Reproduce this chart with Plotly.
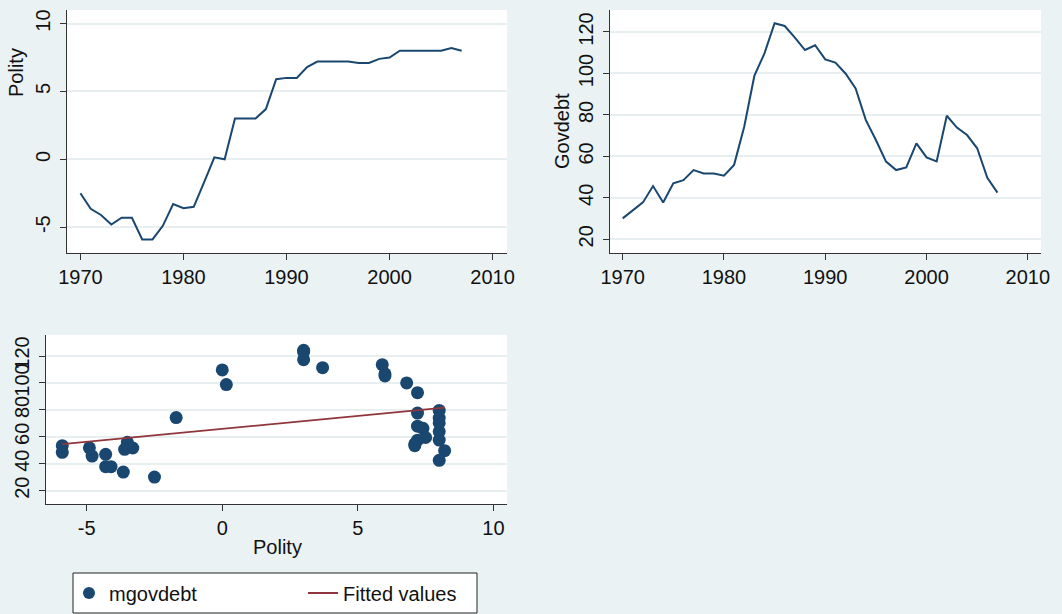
import numpy as np
import plotly.graph_objects as go

years = list(range(1970, 2008))
polity = [-2.5, -3.65, -4.1, -4.8, -4.3, -4.3, -5.9, -5.9, -4.9, -3.3,
          -3.6, -3.5, -1.7, 0.15, 0.0, 3.0, 3.0, 3.0, 3.7, 5.9,
          6.0, 6.0, 6.8, 7.2, 7.2, 7.2, 7.2, 7.1, 7.1, 7.4,
          7.5, 8.0, 8.0, 8.0, 8.0, 8.0, 8.2, 8.0]
govdebt = [30.1, 33.8, 37.8, 45.7, 37.8, 47.0, 48.5, 53.4, 51.8, 51.7,
           50.7, 55.9, 74.3, 98.8, 109.7, 124.2, 122.9, 117.3, 111.3, 113.6,
           106.8, 105.2, 100.0, 92.8, 77.6, 67.9, 57.5, 53.4, 54.7, 66.3,
           59.5, 57.6, 79.6, 73.9, 70.3, 63.9, 49.7, 42.5]

year_ticks = [1970, 1980, 1990, 2000, 2010]
polity_ticks = [-5, 0, 5, 10]
polity_tick_labels = ["-5", "0", "5", "10"]
debt_ticks = [20, 40, 60, 80, 100, 120]
scatter_x_ticks = [-5, 0, 5, 10]
scatter_x_labels = ["-5", "0", "5", "10"]

NAVY = "#1a476f"
RED = "#90353b"
BG = "#eaf2f3"
GRID = "#e8eff1"
AXIS = "#333333"
FONT = "Liberation Sans, Arial, sans-serif"
FS = 20

# fitted values (OLS of govdebt on polity)
slope, intercept = np.polyfit(polity, govdebt, 1)
fx = [min(polity), max(polity)]
fy = [intercept + slope * v for v in fx]

W, H = 1062, 614

def px_x(a, b):
    return [a / W, b / W]

def px_y(top, bottom):
    return [(H - bottom) / H, (H - top) / H]

fig = go.Figure()
fig.add_trace(go.Scatter(x=years, y=polity, mode="lines",
                         line=dict(color=NAVY, width=2),
                         xaxis="x", yaxis="y", showlegend=False))
fig.add_trace(go.Scatter(x=years, y=govdebt, mode="lines",
                         line=dict(color=NAVY, width=2),
                         xaxis="x2", yaxis="y2", showlegend=False))
fig.add_trace(go.Scatter(x=polity, y=govdebt, mode="markers", name="mgovdebt",
                         marker=dict(color=NAVY, size=13),
                         xaxis="x3", yaxis="y3", legend="legend"))
fig.add_trace(go.Scatter(x=fx, y=fy, mode="lines", name="Fitted values",
                         line=dict(color=RED, width=1.8),
                         xaxis="x3", yaxis="y3", legend="legend2"))

common_x = dict(showline=True, linecolor=AXIS, linewidth=1.2, ticks="outside",
                ticklen=6, tickcolor=AXIS, showgrid=False, zeroline=False,
                tickfont=dict(family=FONT, size=FS, color="#111"))
common_y = dict(showline=True, linecolor=AXIS, linewidth=1.2, ticks="outside",
                ticklen=6, tickcolor=AXIS, showgrid=True, gridcolor=GRID,
                gridwidth=1.5, zeroline=False, tickangle=-90,
                ticklabelstandoff=2,
                tickfont=dict(family=FONT, size=FS, color="#111"))

title_font = dict(family=FONT, size=FS, color="#111")
legend_common = dict(orientation="h", xanchor="left", yanchor="middle",
                     y=(H - 593) / H, bgcolor="rgba(0,0,0,0)", borderwidth=0,
                     font=dict(family=FONT, size=FS, color="#111"))

fig.update_layout(
    width=W, height=H,
    margin=dict(l=0, r=0, t=0, b=0, autoexpand=False),
    paper_bgcolor=BG, plot_bgcolor="white",
    font=dict(family=FONT, size=FS, color="#111"),
    xaxis=dict(domain=px_x(67, 507), anchor="y", range=[1968.7, 2011.4],
               tickvals=year_ticks, **common_x),
    yaxis=dict(domain=px_y(10, 253), anchor="x", range=[-6.9, 11.0],
               tickvals=polity_ticks, ticktext=polity_tick_labels, **common_y),
    xaxis2=dict(domain=px_x(610, 1041), anchor="y2", range=[1968.75, 2011.3],
                tickvals=year_ticks, **common_x),
    yaxis2=dict(domain=px_y(10, 253), anchor="x2", range=[13.4, 130.6],
                tickvals=debt_ticks, **common_y),
    xaxis3=dict(domain=px_x(46, 507), anchor="y3", range=[-6.5, 10.5],
                tickvals=scatter_x_ticks, ticktext=scatter_x_labels, **common_x),
    yaxis3=dict(domain=px_y(335, 504), anchor="x3", range=[10.1, 135.6],
                tickvals=debt_ticks, **common_y),
    legend=dict(x=69 / W, itemsizing="constant", **legend_common),
    legend2=dict(x=303 / W, itemsizing="trace", **legend_common),
    shapes=[dict(type="rect", xref="paper", yref="paper",
                 x0=73 / W, x1=477 / W, y0=(H - 613) / H, y1=(H - 573) / H,
                 line=dict(color="#222", width=1), fillcolor="white",
                 layer="below")],
    annotations=[
        dict(text="Polity", textangle=-90, x=29 / W, y=(H - 72) / H,
             xref="paper", yref="paper", xanchor="right", yanchor="middle",
             showarrow=False, font=title_font),
        dict(text="Govdebt", textangle=-90, x=562 / W, y=(H - 131) / H,
             xref="paper", yref="paper", xanchor="center", yanchor="middle",
             showarrow=False, font=title_font),
        dict(text="Polity", x=277 / W, y=(H - 547) / H,
             xref="paper", yref="paper", xanchor="center", yanchor="middle",
             showarrow=False, font=title_font),
    ],
)

fig.write_html(
    "out.html",
    config={"displayModeBar": False},
    post_script="document.body.style.margin='0';"
                "document.body.style.background='#eaf2f3';",
)
